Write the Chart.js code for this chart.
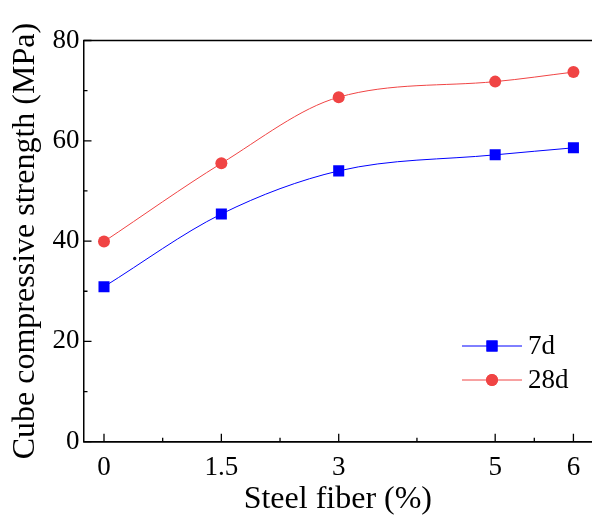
<!DOCTYPE html>
<html>
<head>
<meta charset="utf-8">
<script src="https://cdn.jsdelivr.net/npm/chart.js@4"></script>
<style>
  html, body { margin: 0; background: #fff; overflow: hidden; }
  #wrap { width: 600px; height: 519px; }
</style>
</head>
<body>
<div id="wrap"><canvas id="strengthChart" width="600" height="519"></canvas></div>
<script>
// data
const fiber = [0, 1.5, 3, 5, 6];
const day7 = [30.9, 45.4, 54.0, 57.2, 58.6];
const day28 = [39.9, 55.5, 68.7, 71.8, 73.7];
const xTicks = [0, 1.5, 3, 5, 6];
const xMinor = [0.75, 2.25, 4, 5.5];
const yTicks = [0, 20, 40, 60, 80];
const yMinor = [10, 30, 50, 70];

const serif = "'Liberation Serif', 'Times New Roman', serif";
const blue = '#0000ff';
const red = '#f04444';

// inward ticks, top frame line and the legend
const framePlugin = {
  id: 'frame',
  afterDraw(chart) {
    const ctx = chart.ctx;
    const area = chart.chartArea;
    const xs = chart.scales.x;
    const ys = chart.scales.y;
    ctx.save();
    ctx.strokeStyle = '#000';
    ctx.lineWidth = 1.5;
    ctx.beginPath();
    ctx.moveTo(area.left, area.top);
    ctx.lineTo(chart.width, area.top);
    ctx.moveTo(area.left, area.bottom);
    ctx.lineTo(chart.width, area.bottom);
    ctx.stroke();

    ctx.lineWidth = 1.3;
    ctx.beginPath();
    xTicks.forEach(v => { const px = xs.getPixelForValue(v); ctx.moveTo(px, area.bottom); ctx.lineTo(px, area.bottom - 8); });
    xMinor.forEach(v => { const px = xs.getPixelForValue(v); ctx.moveTo(px, area.bottom); ctx.lineTo(px, area.bottom - 4); });
    yTicks.forEach(v => { const py = ys.getPixelForValue(v); ctx.moveTo(area.left, py); ctx.lineTo(area.left + 8, py); });
    yMinor.forEach(v => { const py = ys.getPixelForValue(v); ctx.moveTo(area.left, py); ctx.lineTo(area.left + 4, py); });
    ctx.stroke();

    // legend
    const items = [
      { label: '7d', color: blue, shape: 'rect', r: 7.8 },
      { label: '28d', color: red, shape: 'circle', r: 6 }
    ];
    const lx0 = 462, lx1 = 522;
    items.forEach((it, i) => {
      const y = 346 + i * 34;
      ctx.strokeStyle = it.color;
      ctx.lineWidth = 1;
      ctx.beginPath();
      ctx.moveTo(lx0, y);
      ctx.lineTo(lx1, y);
      ctx.stroke();
      ctx.fillStyle = it.color;
      Chart.helpers.drawPoint(ctx, { pointStyle: it.shape, radius: it.r, borderWidth: 0 }, (lx0 + lx1) / 2, y);
      ctx.fill();
      ctx.fillStyle = '#000';
      ctx.font = '27px ' + serif;
      ctx.textBaseline = 'middle';
      ctx.fillText(it.label, 528, y + 1);
    });
    ctx.restore();
  }
};

const ctx = document.getElementById('strengthChart').getContext('2d');
const chart = new Chart(ctx, {
  type: 'line',
  data: {
    datasets: [{
      label: '7d',
      data: fiber.map((x, i) => ({ x: x, y: day7[i] })),
      borderColor: blue,
      backgroundColor: blue,
      borderWidth: 1,
      pointStyle: 'rect',
      pointRadius: 7.8,
      pointBorderWidth: 0,
      cubicInterpolationMode: 'monotone',
      fill: false
    }, {
      label: '28d',
      data: fiber.map((x, i) => ({ x: x, y: day28[i] })),
      borderColor: red,
      backgroundColor: red,
      borderWidth: 1,
      pointStyle: 'circle',
      pointRadius: 6,
      pointBorderWidth: 0,
      cubicInterpolationMode: 'monotone',
      fill: false
    }]
  },
  options: {
    responsive: false,
    animation: false,
    events: [],
    layout: { padding: { top: 40.5, right: 0, left: 0, bottom: 0 } },
    plugins: {
      legend: { display: false },
      tooltip: { enabled: false }
    },
    scales: {
      x: {
        type: 'linear',
        min: -0.262,
        max: 6.24,
        afterBuildTicks: (scale) => { scale.ticks = xTicks.map(v => ({ value: v })); },
        afterFit: (scale) => { scale.height = 77.3; scale.paddingRight = 0; scale.paddingLeft = 0; },
        grid: { display: false, drawTicks: false },
        border: { display: true, color: '#000', width: 1.5 },
        ticks: {
          color: '#000',
          font: { family: serif, size: 27 },
          padding: 10,
          maxRotation: 0,
          callback: (v) => String(v)
        },
        title: {
          display: true,
          text: 'Steel fiber (%)',
          color: '#000',
          font: { family: serif, size: 32 },
          padding: { top: 0, bottom: 0 }
        }
      },
      y: {
        min: 0,
        max: 80,
        afterBuildTicks: (scale) => { scale.ticks = yTicks.map(v => ({ value: v })); },
        afterFit: (scale) => { scale.width = 83.5; scale.paddingTop = 0; scale.paddingBottom = 0; },
        grid: { display: false, drawTicks: false },
        border: { display: true, color: '#000', width: 1.5 },
        ticks: {
          color: '#000',
          font: { family: serif, size: 27 },
          padding: 4
        },
        title: {
          display: true,
          text: 'Cube compressive strength (MPa)',
          color: '#000',
          font: { family: serif, size: 32 },
          padding: { top: 6, bottom: 0 }
        }
      }
    }
  },
  plugins: [framePlugin]
});
</script>
</body>
</html>
